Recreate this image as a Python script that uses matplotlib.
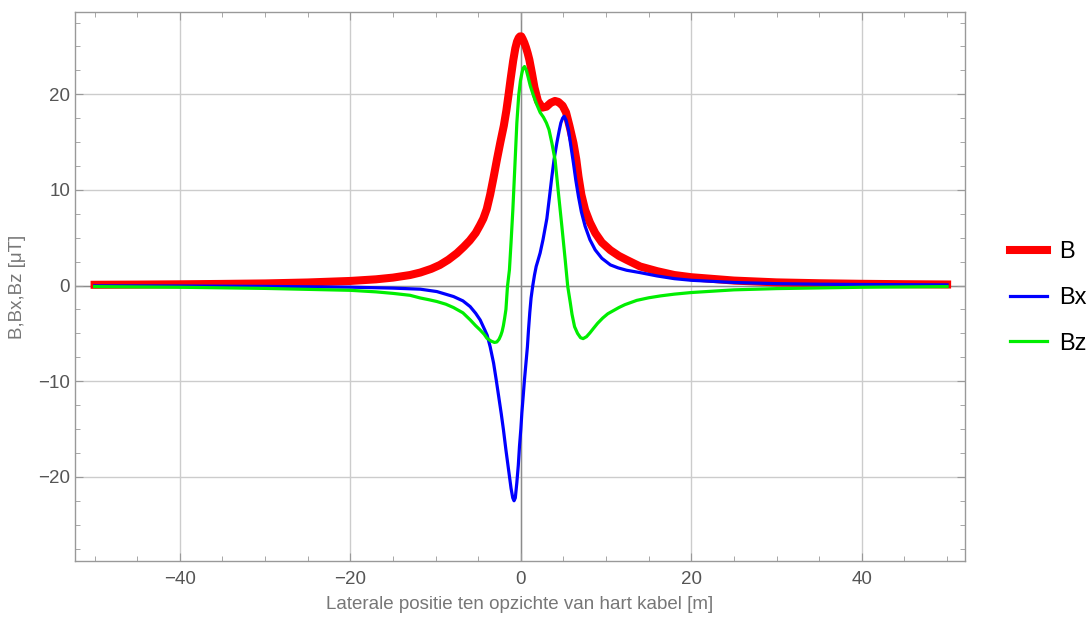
import matplotlib
matplotlib.use("Agg")
import matplotlib.pyplot as plt
from matplotlib.ticker import MultipleLocator

# ---- data ----
x_B = [-50, -45, -40, -35, -30, -25, -20, -17, -15, -13, -11.8, -10.5, -9.5, -8.5, -7.5,
       -6.7, -6.0, -5.3, -4.8, -4.4, -4.0, -3.6, -3.2, -2.8, -2.4, -2.0, -1.7,
       -1.45, -1.2, -0.9, -0.65, -0.45, -0.25, -0.1, 0.05, 0.2, 0.4, 0.6, 0.8, 1.0, 1.3, 1.6,
       2.0, 2.5, 3.0, 3.5, 4.0, 4.4, 4.9, 5.3, 5.7, 6.17, 6.5, 6.76, 7.1, 7.54, 8.1, 8.72,
       9.5, 10.5, 11.5, 12.4, 14.0, 16, 18, 20, 25, 30, 35, 40, 45, 50]
B = [0.08, 0.10, 0.13, 0.17, 0.22, 0.32, 0.48, 0.65, 0.83, 1.1, 1.36, 1.75, 2.15, 2.7, 3.38,
     4.05, 4.7, 5.5, 6.3, 7.0, 8.0, 9.5, 11.3, 13.2, 15.0, 16.7, 18.3,
     19.9, 21.6, 23.5, 24.8, 25.5, 25.9, 26.05, 26.05, 25.8, 25.4, 24.9, 24.3, 23.6, 22.2, 20.7,
     19.3, 18.6, 18.7, 19.1, 19.3, 19.2, 18.8, 18.1, 16.7, 14.9, 13.2, 11.4, 9.5, 7.9, 6.6, 5.5,
     4.5, 3.7, 3.1, 2.69, 1.99, 1.5, 1.1, 0.87, 0.52, 0.33, 0.24, 0.18, 0.14, 0.11]

x_Bx = [-50, -40, -30, -20, -15, -11.8, -9.85, -7.9, -6.8, -5.95, -5.3, -4.77, -4.2, -3.95,
        -3.6, -3.2, -2.9, -2.6, -2.3, -2.04, -1.75, -1.45, -1.15, -0.95, -0.8, -0.65, -0.47,
        -0.3, -0.16, 0.0, 0.12, 0.28, 0.43, 0.6, 0.77, 0.9, 1.05, 1.2, 1.4, 1.6, 1.8, 2.0,
        2.26, 2.6, 3.05, 3.35, 3.64, 3.9, 4.22, 4.5, 4.69, 4.9, 5.08, 5.3, 5.58, 5.85, 6.17,
        6.45, 6.76, 7.1, 7.54, 8.1, 8.72, 9.5, 10.5, 11.4, 12.4, 14.0, 16, 18, 20, 25, 30, 35,
        40, 45, 50]
Bx = [-0.03, -0.05, -0.09, -0.17, -0.27, -0.38, -0.63, -1.15, -1.6, -2.2, -2.9, -3.6, -4.7, -5.2,
      -6.4, -8.1, -9.8, -11.6, -13.4, -15.1, -17.2, -19.2, -21.2, -22.2, -22.5, -22.2, -20.6,
      -18.8, -16.8, -15.0, -13.3, -11.5, -9.8, -8.1, -6.4, -4.6, -2.8, -1.3, 0.0, 1.1, 2.0, 2.6,
      3.4, 4.8, 7.0, 9.2, 11.4, 13.2, 14.9, 16.2, 17.0, 17.5, 17.7, 17.3, 16.3, 14.7, 12.8,
      11.0, 9.3, 7.7, 6.2, 4.8, 3.73, 2.85, 2.16, 1.85, 1.6, 1.35, 1.0, 0.72, 0.55, 0.32, 0.2,
      0.14, 0.11, 0.09, 0.07]

x_Bz = [-50, -40, -30, -20, -17, -15, -13, -11.8, -10.8, -9.85, -8.8, -7.9, -6.8, -5.95, -5.3,
        -4.77, -4.3, -3.99, -3.5, -3.1, -2.82, -2.55, -2.35, -2.2, -2.05, -1.9, -1.75, -1.57,
        -1.34, -1.15, -0.94, -0.7, -0.47, -0.25, -0.05, 0.12, 0.25, 0.43, 0.65, 0.85, 1.1, 1.5,
        1.88, 2.26, 2.65, 3.0, 3.3, 3.64, 4.02, 4.41, 4.81, 5.2, 5.5, 5.8, 6.0, 6.3, 6.65, 7.0,
        7.3, 7.7, 8.1, 8.5, 9.0, 9.6, 10.2, 10.9, 11.5, 12.2, 13.6, 15.0, 16.4, 18, 20, 25, 30,
        40, 50]
Bz = [-0.11, -0.18, -0.3, -0.5, -0.66, -0.82, -1.02, -1.3, -1.48, -1.67, -1.95, -2.3, -2.85, -3.58,
      -4.2, -4.65, -5.1, -5.5, -5.8, -5.95, -5.9, -5.6, -5.2, -4.8, -4.2, -3.4, -2.5, -0.1,
      1.64, 4.5, 7.9, 12.5, 17.0, 19.9, 21.4, 22.2, 22.7, 22.9, 22.5, 21.8, 20.9, 19.8,
      18.9, 18.1, 17.6, 17.0, 16.3, 14.9, 13.1, 9.65, 6.2, 2.7, -0.1, -1.8, -3.0, -4.3, -5.0,
      -5.45, -5.55, -5.35, -4.95, -4.5, -3.95, -3.4, -2.95, -2.6, -2.3, -2.0, -1.55, -1.28,
      -1.08, -0.9, -0.73, -0.45, -0.32, -0.18, -0.11]

labels = ["B", "Bx", "Bz"]
colors = ["#ff0000", "#0000ff", "#00ee00"]
x_ticks = [-40, -20, 0, 20, 40]
y_ticks = [-20, -10, 0, 10, 20]
x_label = "Laterale positie ten opzichte van hart kabel [m]"
y_label = "B,Bx,Bz [\u03bcT]"

plt.rcParams['font.family'] = ['Liberation Sans', 'DejaVu Sans']

fig = plt.figure(figsize=(10.91, 6.19), dpi=100)
ax = fig.add_axes([75/1091, 1-561/619, 890/1091, (561-12)/619])

ax.set_xlim(-52.3, 52.1)
ax.set_ylim(-28.8, 28.6)

for v in x_ticks:
    ax.axvline(v, color="#cccccc", lw=1.0, zorder=0)
for v in y_ticks:
    ax.axhline(v, color="#cccccc", lw=1.0, zorder=0)
ax.axvline(0, color="#8c8c8c", lw=1.0, zorder=0.5)
ax.axhline(0, color="#8c8c8c", lw=1.0, zorder=0.5)

ax.plot(x_B, B, color=colors[0], lw=5.8, label=labels[0], solid_joinstyle="round", zorder=2)
ax.plot(x_Bx, Bx, color=colors[1], lw=2.3, label=labels[1], solid_joinstyle="round", zorder=3)
ax.plot(x_Bz, Bz, color=colors[2], lw=2.3, label=labels[2], solid_joinstyle="round", zorder=4)

ax.set_xticks(x_ticks)
ax.set_yticks(y_ticks)
ax.set_xticklabels(["\u2212" + str(abs(t)) if t < 0 else str(t) for t in x_ticks])
ax.set_yticklabels(["\u2212" + str(abs(t)) if t < 0 else str(t) for t in y_ticks])
ax.xaxis.set_minor_locator(MultipleLocator(5))
ax.yaxis.set_minor_locator(MultipleLocator(2.5))
ax.tick_params(which="both", direction="in", top=True, right=True, color="#999999",
               labelcolor="#555555", labelsize=13.5)
ax.tick_params(which="major", length=6, width=0.8)
ax.tick_params(which="minor", length=3.5, width=0.6)
ax.tick_params(axis="x", which="major", pad=7)
for s in ax.spines.values():
    s.set_color("#999999")
    s.set_linewidth(1.0)

ax.set_xlabel(x_label, color="#777777", fontsize=13.5, labelpad=6)
ax.set_ylabel(y_label, color="#777777", fontsize=13.5, labelpad=9)

fig.legend(loc="center left", bbox_to_anchor=(1001/1091, 1-298/619), frameon=False,
           fontsize=17, handlelength=1.55, labelspacing=1.0, handletextpad=0.5,
           borderaxespad=0.0, borderpad=0.4)

fig.savefig("out.png", dpi=100)
